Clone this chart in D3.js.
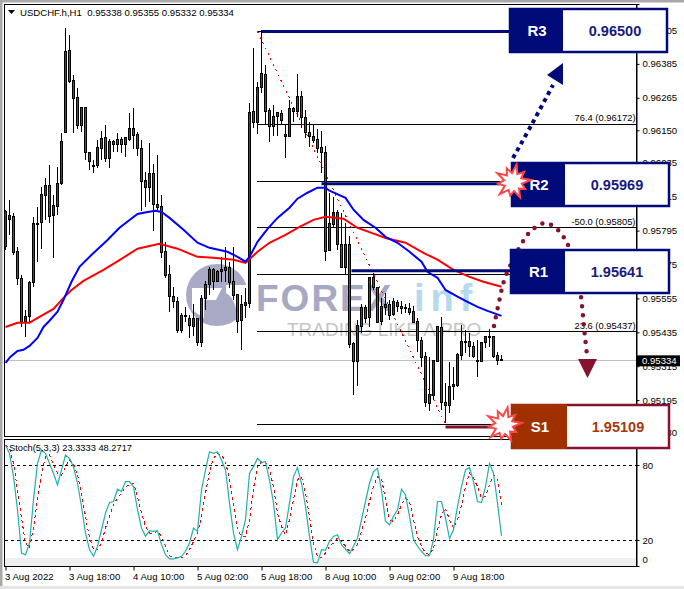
<!DOCTYPE html>
<html>
<head>
<meta charset="utf-8">
<script src="https://cdn.jsdelivr.net/npm/d3@7"></script>
<style>
  body { margin: 0; background: #fff; }
  text { font-family: "Liberation Sans", Arial, sans-serif; }
  .tick text { font-size: 9.6px; fill: #000; }
</style>
</head>
<body>
<div id="container"></div>
<script>
// all prices are in points (1 point = 0.00001)
let opens = [95738,95833,95844,95720,95624,95469,95490,95610,95816,95823,95918,95954,95847,95879,95961,96141,96431,96325,96265,96166,96230,96070,96024,96024,96085,96123,96049,96109,96099,96116,96099,96116,96155,96134,96085,95971,95947,95996,95886,95879,95720,95639,95561,95543,95440,95490,95483,95454,95483,95398,95554,95603,95656,95614,95649,95652,95663,95614,95568,95476,95529,95536,96216,96177,96300,96347,96219,96162,96198,96208,96127,96127,96226,96216,96269,96194,96141,96127,96116,96088,96070,95724,95816,95858,95745,95663,95745,95394,95331,95454,95522,95486,95628,95592,95472,95522,95532,95497,95539,95525,95518,95518,95508,95472,95405,95348,95182,95210,95331,95451,95185,95175,95242,95246,95352,95399,95401,95384,95331,95331,95398,95419,95419,95352,95338];
let highs = [95869,95904,95858,95738,95639,95515,95617,95844,95879,95950,95982,96028,95922,96021,96141,96513,96488,96347,96300,96233,96233,96074,96046,96116,96148,96170,96120,96116,96141,96127,96127,96212,96230,96145,96116,96003,96106,96031,96063,95922,95755,95674,95596,95561,95504,95525,95497,95536,95483,95568,95617,95667,95663,95656,95702,95738,95685,95738,95568,95568,95592,96247,96442,96322,96506,96382,96230,96240,96216,96223,96173,96258,96233,96350,96290,96223,96180,96173,96155,96148,96095,95929,95915,95869,95858,95823,95777,95401,95479,95536,95532,95628,95646,95592,95557,95575,95550,95557,95550,95547,95536,95539,95529,95486,95419,95366,95348,95338,95454,95490,95256,95331,95313,95362,95462,95444,95433,95401,95408,95401,95423,95447,95423,95366,95355];
let lows = [95727,95780,95709,95603,95454,95419,95472,95596,95685,95731,95833,95823,95699,95851,95957,96141,96318,96141,96155,96145,96046,96010,95999,96017,96046,96039,96017,96074,96074,96070,96056,96113,96085,96060,95865,95879,95897,95794,95869,95699,95628,95508,95522,95433,95433,95472,95415,95423,95387,95384,95515,95568,95585,95614,95614,95614,95592,95550,95433,95373,95486,95522,96159,96138,96283,96170,96109,96131,96131,96170,96053,96127,96180,96198,96159,96123,96092,96106,96070,95999,95688,95724,95805,95727,95663,95642,95380,95214,95246,95433,95469,95454,95585,95469,95462,95497,95479,95493,95508,95500,95504,95497,95469,95366,95313,95171,95157,95196,95331,95161,95115,95150,95196,95242,95338,95362,95348,95345,95277,95331,95380,95384,95345,95320,95332];
let closes = [95861,95847,95716,95624,95469,95490,95610,95819,95819,95922,95954,95844,95883,95961,96109,96428,96322,96262,96166,96230,96070,96039,96026,96088,96120,96049,96109,96099,96116,96099,96123,96155,96131,96085,95968,95947,95996,95886,95876,95716,95635,95561,95543,95440,95493,95493,95458,95483,95398,95554,95603,95656,95614,95649,95656,95663,95610,95564,95472,95532,95539,96212,96177,96300,96350,96216,96162,96198,96212,96184,96134,96226,96216,96269,96194,96141,96127,96113,96085,96070,95720,95819,95858,95745,95663,95745,95391,95331,95458,95522,95483,95628,95592,95469,95525,95532,95493,95543,95525,95518,95522,95504,95469,95405,95345,95185,95214,95334,95454,95185,95175,95242,95249,95355,95401,95401,95384,95348,95334,95398,95419,95417,95348,95334,95334];

// moving averages, read at irregular candle positions
let blueIndex = [0,1.2,3,4.5,6,8,9.5,11,13,14.5,16.5,18.5,22,25.5,28.5,33,35.5,37.5,39,41,44.5,48,51,55.5,58,60,61,63,65.5,68,71,73,75.5,78,80,81,85,87,89.5,92.5,95,98,101,104,105.5,108,110,113,115.5,118,120.5,124];
let blueValues = [95327,95348,95369,95373,95387,95415,95454,95476,95508,95550,95614,95667,95716,95762,95805,95854,95861,95865,95861,95840,95798,95752,95734,95720,95702,95685,95702,95755,95801,95840,95876,95908,95929,95947,95947,95936,95911,95869,95833,95805,95773,95752,95720,95685,95649,95628,95585,95561,95543,95525,95511,95493];
let redIndex = [0,3,6,8.5,12,14.5,16.5,19.5,24.5,29,33,38.5,43,48,52,57,60,63,66,70,73.5,77,80,84.5,88,91.5,95,100,104.5,108,112,116,119.5,124];
let redValues = [95454,95469,95469,95490,95518,95557,95585,95617,95656,95695,95731,95748,95731,95702,95699,95692,95681,95720,95752,95780,95808,95833,95844,95837,95805,95787,95769,95752,95716,95692,95656,95631,95614,95596];

let stochMain = [95.9,89.3,70.7,44.2,9.6,8.1,17.6,52.1,81.3,92,89.3,81.3,73.4,64,76,88,85.3,78.7,65.4,46.8,25.6,12.3,7,15,28.2,41.5,50,50.8,60.6,58.8,66.7,66.7,62.7,44.2,29.6,22.9,27.4,26.9,27.4,16.3,8.3,4.9,4.9,5.7,7,11,17.6,29.6,26.9,60,76,90.6,89.3,90.6,84,76,49.5,25.6,12.3,22.9,36.2,73.4,78.7,85.3,82,82.7,68,49.5,20.3,25.6,29.6,49.5,70.7,78,65.4,46.8,22.9,2.2,1.7,12.3,11.8,19,22.9,24.2,16.3,12.8,9.1,15,21.6,36.2,50.8,65.4,74.7,77.3,60,34.9,32.2,38.9,44.2,60.6,56.1,38.9,20.3,15,11,7.5,7.5,20.3,50.8,50.8,37.5,21.1,28.2,46.8,62.7,76,78,66.7,50.8,50,62.7,81.3,73.4,49.5,23.3333];
let stochSignal = [95.9,93.3,81.3,60.1,37.5,17.6,13.6,29.6,52.1,73.4,86.6,88,80,73.4,72,78.7,84,81.3,72,57.4,38.9,21.6,12.3,12.3,17.6,29.6,38.9,48.1,53.5,57.4,62.7,64.1,65.4,54.8,41.5,30.9,25.6,25.6,26.9,22.9,15,7.5,5.7,5.7,5.7,7.5,12.3,18.9,25.6,38.9,57.4,74.7,85.3,89.3,88,82.7,68.1,48.1,28.2,22.9,22.9,36.2,61.4,78.7,82.7,82.7,76,62.7,41.5,30.9,24.2,36.2,52.1,68.1,70.7,57.4,38.9,17.6,7,5.7,9.6,15,17.6,21.6,18.9,15,11,12.3,16.3,26.9,37.5,50.8,62.7,70.7,69.4,52.1,36.2,34.9,40.2,48.1,53.5,50.8,36.2,22.9,15,9.6,8.3,13.6,28.2,40.2,45.5,36.2,29.6,36.2,48.1,62.7,73.4,69.4,62.7,53.5,54.8,64.1,72,68.1,48.2717];

let priceTicks = [96505,96385,96265,96150,96035,95915,95795,95675,95555,95435,95315,95195,95080];
let timeTickIndex = [0,16,32,48,64,80,96,112];
let timeTickLabels = ["3 Aug 2022","3 Aug 18:00","4 Aug 10:00","5 Aug 02:00","5 Aug 18:00","8 Aug 10:00","9 Aug 02:00","9 Aug 18:00"];
let stochTicks = [80,20,0];

let fiboValues = [96500,96172,95969,95805,95641,95437,95109];
let fiboLabels = ["","76.4 (0.96172)","","-50.0 (0.95805)","","23.6 (0.95437)",""];
let lastPrice = 95334;

let w = 684;
let h = 589;
let axisX = 636.5;

let viz = d3.select("#container")
              .append("svg")
              .attr("width", w)
              .attr("height", h)
              .style("display", "block")
;

let xScale = d3.scaleLinear().domain([0, 124]).range([5.5, 501.5]);
let yScale = d3.scaleLinear().domain([96597, 95068]).range([4, 436]);
let stochY = d3.scaleLinear().domain([100.8, -0.8]).range([439, 566]);

function snap(v) { return Math.round(v - 0.5) + 0.5; }

// window frame
viz.append("rect").attr("x", 0).attr("y", 0).attr("width", w).attr("height", 2.5).attr("fill", "#a8a8a8");
viz.append("rect").attr("x", 0).attr("y", 0).attr("width", 2.5).attr("height", h).attr("fill", "#a8a8a8");
viz.append("rect").attr("x", 0).attr("y", 586).attr("width", w).attr("height", 3).attr("fill", "#e4e4e4");

// watermark
let mark = viz.append("g").attr("class", "watermark");
mark.append("circle").attr("cx", 217).attr("cy", 295).attr("r", 31).attr("fill", "#a9abc6");
mark.append("path").attr("d", "M192 288 L222 288 L216 300 L204 300 L204 318 L192 310 Z").attr("fill", "#fff");
mark.append("path").attr("d", "M226 285 L250 285 L250 322 L236 322 C238 308 234 298 226 293 Z").attr("fill", "#fff");
mark.append("text").attr("x", 256).attr("y", 311).attr("font-size", 37).attr("font-weight", "bold")
    .attr("letter-spacing", 2).attr("fill", "#a7a9c4").text("FOREX");
mark.append("text").attr("x", 414).attr("y", 311).attr("font-size", 38).attr("font-weight", "bold")
    .attr("letter-spacing", 6).attr("fill", "#b5d9ee").text("inf");
mark.append("text").attr("x", 287).attr("y", 336).attr("font-size", 19)
    .attr("fill", "#c6c6c6").text("TRADING LIKE A PRO");

// fibo levels
let fibo = viz.append("g").attr("class", "fibo");
fibo.selectAll("line").data(fiboValues).enter().append("line")
    .attr("x1", xScale(63) - 0.5)
    .attr("x2", axisX)
    .attr("y1", function(d) { return snap(yScale(d)); })
    .attr("y2", function(d) { return snap(yScale(d)); })
    .attr("stroke", "#000")
;
fibo.selectAll("text").data(fiboLabels).enter().append("text")
    .attr("x", axisX - 1)
    .attr("y", function(d, i) { return yScale(fiboValues[i]) - 3; })
    .attr("text-anchor", "end")
    .attr("font-size", 9.4)
    .text(function(d) { return d; })
;

// current price line
viz.append("line").attr("x1", 5).attr("x2", axisX)
    .attr("y1", snap(yScale(lastPrice))).attr("y2", snap(yScale(lastPrice)))
    .attr("stroke", "#c0c0c0");

// trend line of the fibo
viz.append("line")
    .attr("x1", xScale(63)).attr("y1", yScale(96500))
    .attr("x2", xScale(110)).attr("y2", yScale(95109))
    .attr("stroke", "#ff0000").attr("stroke-dasharray", "2 4")
    .attr("shape-rendering", "crispEdges");

// candles
let candles = viz.append("g").attr("class", "candles").attr("shape-rendering", "crispEdges");
let candleData = opens.map(function(d, i) {
  return { i: i, o: d, h: highs[i], l: lows[i], c: closes[i] };
});
candles.selectAll("line").data(candleData).enter().append("line")
    .attr("x1", function(d) { return xScale(d.i); })
    .attr("x2", function(d) { return xScale(d.i); })
    .attr("y1", function(d) { return yScale(d.h); })
    .attr("y2", function(d) { return yScale(d.l); })
    .attr("stroke", "#000")
;
candles.selectAll("rect").data(candleData).enter().append("rect")
    .attr("x", function(d) { return xScale(d.i) - 1; })
    .attr("y", function(d) { return snap(yScale(Math.max(d.o, d.c))); })
    .attr("width", 2)
    .attr("height", function(d) {
      return Math.max(1, Math.round(Math.abs(yScale(d.o) - yScale(d.c))));
    })
    .attr("fill", function(d) { return d.c >= d.o ? "#0b6e14" : "#e8141c"; })
    .attr("stroke", "#000")
;

// moving averages
let maLine = d3.line()
                .x(function(d) { return xScale(d[0]); })
                .y(function(d) { return yScale(d[1]); })
;
viz.append("path").attr("d", maLine(d3.zip(redIndex, redValues)))
    .attr("fill", "none").attr("stroke", "#ff0000").attr("stroke-width", 2);
viz.append("path").attr("d", maLine(d3.zip(blueIndex, blueValues)))
    .attr("fill", "none").attr("stroke", "#0000ff").attr("stroke-width", 2);

// price axis
let yAxis = d3.axisRight(yScale)
              .tickValues(priceTicks)
              .tickSize(3)
              .tickPadding(3)
              .tickFormat(function(d) { return (d / 100000).toFixed(5); });
viz.append("g").attr("class", "yaxisgroup")
    .attr("transform", "translate(" + axisX + ",0)")
    .call(yAxis);

// chart and indicator borders
[[4.5, 436.5], [439.5, 566.5]].forEach(function(p) {
  viz.append("rect").attr("x", 4.5).attr("y", p[0]).attr("width", axisX - 4.5).attr("height", p[1] - p[0])
      .attr("fill", "none").attr("stroke", "#000");
});

// stochastic window
viz.append("rect").attr("x", 5).attr("width", axisX - 5.5)
    .attr("y", stochY(5.6)).attr("height", stochY(0) - stochY(5.6) + 1).attr("fill", "#efefef");
[80, 20].forEach(function(lvl) {
  viz.append("line").attr("x1", 5).attr("x2", axisX)
      .attr("y1", snap(stochY(lvl))).attr("y2", snap(stochY(lvl)))
      .attr("stroke", "#000").attr("stroke-dasharray", "3 3");
});
let stochLine = d3.line()
                   .x(function(d, i) { return xScale(i); })
                   .y(function(d) { return stochY(d); })
;
viz.append("path").attr("d", stochLine(stochSignal))
    .attr("fill", "none").attr("stroke", "#ff0000").attr("stroke-dasharray", "3 3")
    .attr("shape-rendering", "crispEdges");
viz.append("path").attr("d", stochLine(stochMain))
    .attr("fill", "none").attr("stroke", "#20b2aa").attr("stroke-width", 1.2);

let stochAxis = d3.axisRight(stochY)
                  .tickValues(stochTicks)
                  .tickSize(3)
                  .tickPadding(3);
let stochAxisGroup = viz.append("g").attr("class", "stochaxis")
    .attr("transform", "translate(" + axisX + ",0)")
    .call(stochAxis);
stochAxisGroup.selectAll(".tick").filter(function(d) { return d == 0; })
    .attr("transform", "translate(0,560)")
    .select("line").remove();

// time axis
let xAxis = d3.axisBottom(xScale)
              .tickValues(timeTickIndex)
              .tickSize(4)
              .tickPadding(3)
              .tickFormat(function(d, i) { return timeTickLabels[i]; });
let xAxisGroup = viz.append("g").attr("class", "xaxisgroup")
    .attr("transform", "translate(0,566.5)")
    .call(xAxis);
xAxisGroup.select(".domain").remove();
xAxisGroup.selectAll("text").attr("text-anchor", "start").attr("x", -1);

// titles
viz.append("path").attr("d", "M8 10 L15 10 L11.5 14 Z").attr("fill", "#000");
viz.append("text").attr("x", 20).attr("y", 16).attr("font-size", 9.6)
    .style("white-space", "pre").text("USDCHF.h,H1  0.95338 0.95355 0.95332 0.95334");
viz.append("text").attr("x", 9).attr("y", 451).attr("font-size", 9.3)
    .text("Stoch(5,3,3) 23.3333 48.2717");

// last price tag
viz.append("rect").attr("x", 637).attr("y", yScale(lastPrice) - 5.5).attr("width", 43).attr("height", 11).attr("fill", "#000");
viz.append("text").attr("x", 642).attr("y", yScale(lastPrice) + 3.5).attr("font-size", 9.6).attr("fill", "#fff")
    .text((lastPrice / 100000).toFixed(5));

// support and resistance bars, they sit a little off the fibo levels
let navy = "#000a78";
let maroon = "#85122f";
let barStart = [64, 79, 86.5, 110];
let barValues = [96500, 95961, 95653, 95100];
let barEnd = [510, 500, 511, 492];
barValues.forEach(function(d, i) {
  viz.append("line")
      .attr("x1", xScale(barStart[i])).attr("x2", barEnd[i])
      .attr("y1", yScale(d)).attr("y2", yScale(d))
      .attr("stroke", i == 3 ? maroon : navy).attr("stroke-width", 3);
});

// hand drawn arrows
let curve = d3.line().curve(d3.curveCatmullRom);
viz.append("path")
    .attr("d", curve([[513, 158], [532, 124], [553, 85]]))
    .attr("fill", "none").attr("stroke", navy).attr("stroke-width", 4).attr("stroke-dasharray", "4 4");
viz.append("path").attr("d", "M547 75 L563 63 L563 85 Z").attr("fill", navy);
viz.append("path")
    .attr("d", curve([[494, 326], [499, 302], [505, 278], [522, 243], [532, 230], [545, 223], [558, 230], [567, 243], [577, 270], [581, 297], [585, 337], [587, 355]]))
    .attr("fill", "none").attr("stroke", maroon).attr("stroke-width", 4.5)
    .attr("stroke-linecap", "round").attr("stroke-dasharray", "0 9");
viz.append("path").attr("d", "M578 359 L597 359 L587.5 378 Z").attr("fill", maroon);

// level boxes
let boxNames = ["R3", "R2", "R1", "S1"];
let boxValues = ["0.96500", "0.95969", "1.95641", "1.95109"];
let boxTop = [9, 163, 250, 405];
let boxLeft = [510, 512, 511, 512];
let boxSplit = [563, 565, 565, 567];
boxNames.forEach(function(name, i) {
  let isSupport = name == "S1";
  let fill = isSupport ? "#a03000" : navy;
  let edge = isSupport ? maroon : navy;
  let ink = isSupport ? "#a83810" : "#1a1a80";
  let right = i == 0 ? 667 : 669;
  viz.append("rect").attr("x", boxLeft[i]).attr("y", boxTop[i]).attr("width", right - boxLeft[i]).attr("height", 43)
      .attr("fill", "#fff").attr("stroke", edge).attr("stroke-width", 2.5);
  viz.append("rect").attr("x", boxLeft[i] - 1).attr("y", boxTop[i] - 1).attr("width", boxSplit[i] - boxLeft[i] + 1).attr("height", 45)
      .attr("fill", fill);
  viz.append("text").attr("x", (boxLeft[i] + boxSplit[i]) / 2 + 0.5).attr("y", boxTop[i] + 27)
      .attr("text-anchor", "middle").attr("font-size", 15).attr("font-weight", "bold").attr("fill", "#fff").text(name);
  viz.append("text").attr("x", (boxSplit[i] + right) / 2).attr("y", boxTop[i] + 27)
      .attr("text-anchor", "middle").attr("font-size", 14.5).attr("font-weight", "bold").attr("fill", ink).text(boxValues[i]);
});

// bursts
let burstRadii = [18, 9, 15, 9, 18, 9, 14, 9, 17, 9, 14, 9, 18, 9, 15, 9, 18, 9, 15, 9];
let burst = d3.lineRadial()
               .angle(function(d, i) { return i / burstRadii.length * 2 * Math.PI + 0.2; })
               .radius(function(d) { return d; })
               .curve(d3.curveLinearClosed);
[[513, 182], [504, 425]].forEach(function(c) {
  viz.append("path").attr("d", burst(burstRadii))
      .attr("transform", "translate(" + c[0] + "," + c[1] + ")")
      .attr("fill", "#fff").attr("stroke", "#ff4646").attr("stroke-width", 2);
});
</script>
</body>
</html>
